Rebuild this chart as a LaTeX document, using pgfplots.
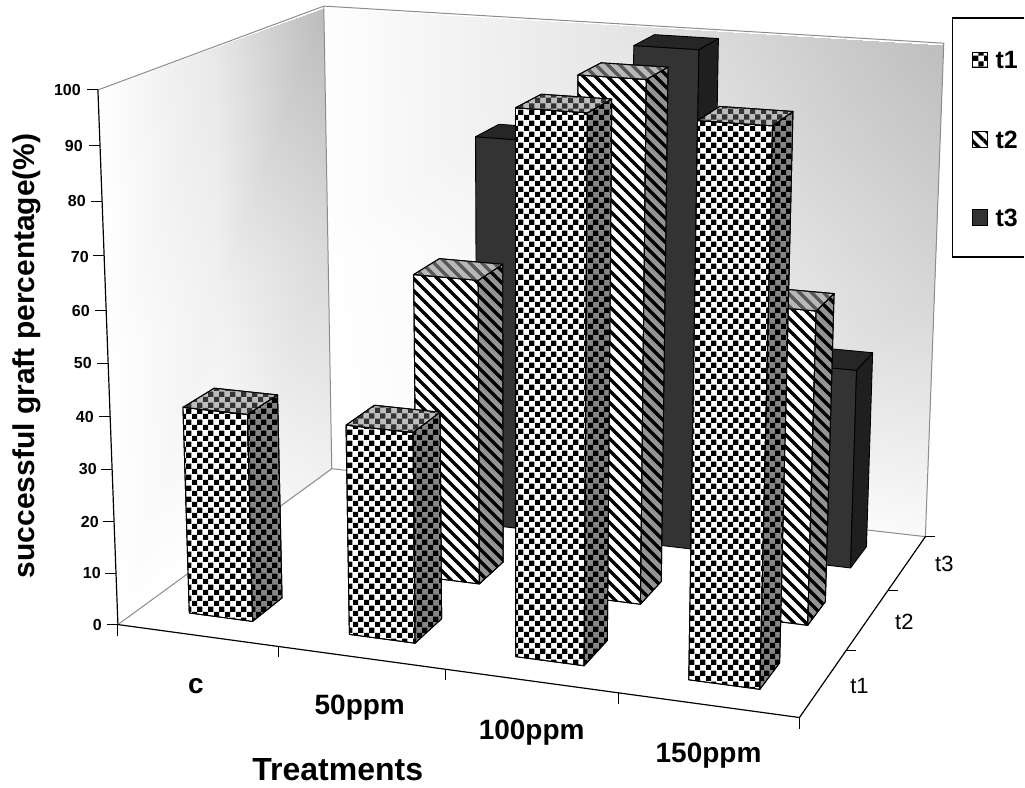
\documentclass[border=0pt]{standalone}
\usepackage{fontspec}
\setmainfont{Liberation Sans}
\usepackage{pgfplots}
\usepackage{pgfplotstable}
\pgfplotsset{compat=1.18}
\usetikzlibrary{patterns}

% fill patterns, sizes in px of the reference
\pgfdeclarepatternformonly{chk}{\pgfpointorigin}{\pgfpoint{10.7pt}{10.7pt}}{\pgfpoint{10.7pt}{10.7pt}}{
  \pgfpathrectangle{\pgfpointorigin}{\pgfpoint{5.35pt}{5.35pt}}
  \pgfpathrectangle{\pgfpoint{5.35pt}{5.35pt}}{\pgfpoint{5.35pt}{5.35pt}}
  \pgfusepath{fill}
}
\pgfdeclarepatternformonly{stripe}{\pgfpointorigin}{\pgfpoint{12pt}{12pt}}{\pgfpoint{12pt}{12pt}}{
  \pgfsetlinewidth{3.4pt}
  \pgfpathmoveto{\pgfpoint{-2pt}{14pt}}\pgfpathlineto{\pgfpoint{14pt}{-2pt}}
  \pgfpathmoveto{\pgfpoint{-4pt}{4pt}}\pgfpathlineto{\pgfpoint{4pt}{-4pt}}
  \pgfpathmoveto{\pgfpoint{8pt}{16pt}}\pgfpathlineto{\pgfpoint{16pt}{8pt}}
  \pgfusepath{stroke}
}

% percent of successful grafts, one row for each treatment
\pgfplotstableread{
treatment t1  t2  t3
c         40  0   0
50ppm     40  60  80
100ppm    100 100 100
150ppm    100 60  40
}\barvals

% the picture's perspective: X = 0..4 treatments, Y = 0..3 series, Z = 0..100 percent
\newcommand\PX[3]{((620.90*(#1)/4+268.56*(#2)/3-24.635*(#3)/100+118)/(1-0.07638*(#1)/4+0.16435*(#2)/3-0.0473*(#3)/100))}
\newcommand\PY[3]{((38.16*(#1)/4-78.92*(#2)/3-539.26*(#3)/100+625)/(1-0.07638*(#1)/4+0.16435*(#2)/3-0.0473*(#3)/100))}

\newcommand\face[2]{%
  \addplot[#1] table[row sep=\\,
    x expr={\PX{\I+0.3+0.4*\thisrow{a}}{\J+0.3+0.4*\thisrow{b}}{\V*\thisrow{c}}},
    y expr={\PY{\I+0.3+0.4*\thisrow{a}}{\J+0.3+0.4*\thisrow{b}}{\V*\thisrow{c}}}]
    {a b c\\ #2};}
% treatment row, series number, styles of front, side, top
\newcommand\drawbar[5]{%
  \pgfplotstablegetelem{#1}{t#2}\of\barvals
  \let\V\pgfplotsretval
  \def\I{#1}\pgfmathtruncatemacro\J{#2-1}%
  \face{#3}{0 0 0\\ 1 0 0\\ 1 0 1\\ 0 0 1\\ 0 0 0\\}
  \face{#4}{1 0 0\\ 1 1 0\\ 1 1 1\\ 1 0 1\\ 1 0 0\\}
  \face{#5}{0 0 1\\ 1 0 1\\ 1 1 1\\ 0 1 1\\ 0 0 1\\}
}
% a line between model points
\newcommand\mline[2]{%
  \addplot[#1] table[row sep=\\,
    x expr={\PX{\thisrow{X}}{\thisrow{Y}}{\thisrow{Z}}},
    y expr={\PY{\thisrow{X}}{\thisrow{Y}}{\thisrow{Z}}}]
    {X Y Z\\ #2};}

\definecolor{edgegray}{gray}{0.55}
\pgfplotsset{
  bar edge/.style={draw=black, line width=0.9pt, line join=round},
  chkF/.style={bar edge, preaction={fill=white}, pattern=chk},
  chkS/.style={bar edge, preaction={fill=black!48}, pattern=chk},
  chkT/.style={bar edge, preaction={fill=black!26}, pattern=chk, pattern color=black!80},
  strF/.style={bar edge, preaction={fill=white}, pattern=stripe},
  strS/.style={bar edge, preaction={fill=black!42}, pattern=stripe},
  strT/.style={bar edge, preaction={fill=black!28}, pattern=stripe, pattern color=black!65},
  solF/.style={bar edge, fill=black!80},
  solS/.style={bar edge, fill=black!88},
  solT/.style={bar edge, fill=black!85},
}
\newcommand\bold[1]{\fontsize{#1}{#1}\selectfont\bfseries}
\newcommand\plain[1]{\fontsize{#1}{#1}\selectfont}

\begin{document}
\begin{tikzpicture}
\begin{axis}[
  scale only axis, width=1025pt, height=788pt,
  xmin=0, xmax=1025, ymin=0, ymax=788, y dir=reverse,
  hide axis, clip=false,
  colormap={wall}{gray(0cm)=(0); gray(1cm)=(1)},
  point meta min=0, point meta max=255,
]
  % a hidden axis adds no box of its own: hold the page at full size
  \path (axis cs:0,0) rectangle (axis cs:1025,788);

  % left wall
  \addplot[patch, patch type=rectangle, shader=interp, point meta=\thisrow{c}] table {
    x y c
    98 90 255
    216 47 232
    219 290 240
    108 360 255
    108 360 255
    219 290 240
    225 547 255
    118 625 255
    216 47 232
    324 8 188
    328 240 216
    219 290 240
    219 290 240
    328 240 216
    332 469 240
    225 547 255
  };
  % back wall
  \addplot[patch, patch type=rectangle, shader=interp, point meta=\thisrow{c}] table {
    x y c
    324 8 254
    635 26 228
    632 265 243
    328 240 254
    328 240 254
    632 265 243
    629 503 255
    332 469 255
    635 26 228
    944 45 190
    935 290 214
    632 265 243
    632 265 243
    935 290 214
    926 537 250
    629 503 255
  };
  % wall edges
  \mline{edgegray, line width=1pt}{0 0 100\\ 0 3 100\\ 4 3 100\\ 4 3 0\\ 0 3 0\\ 0 0 0\\}
  \mline{edgegray, line width=1pt}{0 3 100\\ 0 3 0\\}
  % axes
  \mline{black, line width=1.2pt}{0 0 100\\ 0 0 0\\ 4 0 0\\ 4 3 0\\}

  % ticks on the percent axis
  \pgfplotsinvokeforeach{0,10,...,100}{
    \addplot[black, line width=1pt] table[row sep=\\,
      x expr={\PX{0}{0}{#1}+\thisrow{dx}}, y expr={\PY{0}{0}{#1}}] {dx\\ -11\\ 0\\};
  }
  % ticks below the treatment axis
  \pgfplotsinvokeforeach{0,1,2,3,4}{
    \addplot[black, line width=1pt] table[row sep=\\,
      x expr={\PX{#1}{0}{0}}, y expr={\PY{#1}{0}{0}+\thisrow{dy}}] {dy\\ 0\\ 11\\};
  }
  % ticks beside the series axis
  \pgfplotsinvokeforeach{1,2,3}{
    \addplot[black, line width=1pt] table[row sep=\\,
      x expr={\PX{4}{#1}{0}+\thisrow{dx}}, y expr={\PY{4}{#1}{0}}] {dx\\ 0\\ 10\\};
  }

  % bars, from the back to the front
  \drawbar{1}{3}{solF}{solS}{solT}
  \drawbar{2}{3}{solF}{solS}{solT}
  \drawbar{3}{3}{solF}{solS}{solT}
  \drawbar{1}{2}{strF}{strS}{strT}
  \drawbar{2}{2}{strF}{strS}{strT}
  \drawbar{3}{2}{strF}{strS}{strT}
  \drawbar{0}{1}{chkF}{chkS}{chkT}
  \drawbar{1}{1}{chkF}{chkS}{chkT}
  \drawbar{2}{1}{chkF}{chkS}{chkT}
  \drawbar{3}{1}{chkF}{chkS}{chkT}

  % percent axis labels
  \foreach \lab/\xx/\yy in {100/81/90,90/83/146,80/86/201,70/89/257,60/90/311,50/92/363,40/94/417,30/97/469,20/99/522,10/101/573,0/102/625}{
    \edef\tmp{\noexpand\node[anchor=east, inner sep=0pt, font=\noexpand\bold{16}] at (axis cs:\xx,\yy) {\lab};}
    \tmp
  }
  \node[rotate=90, inner sep=0pt, font=\bold{30}] at (axis cs:27,356) {successful graft percentage(\%)};
  \node[inner sep=0pt, font=\bold{28}] at (axis cs:196,687) {c};
  \node[inner sep=0pt, font=\bold{28}] at (axis cs:360,708) {50ppm};
  \node[inner sep=0pt, font=\bold{28}] at (axis cs:532,733) {100ppm};
  \node[inner sep=0pt, font=\bold{28}] at (axis cs:709,756) {150ppm};
  \node[inner sep=0pt, font=\bold{32}] at (axis cs:338,770) {Treatments};
  \node[inner sep=0pt, font=\plain{22}] at (axis cs:860,686) {t1};
  \node[inner sep=0pt, font=\plain{22}] at (axis cs:905,622) {t2};
  \node[inner sep=0pt, font=\plain{22}] at (axis cs:945,564) {t3};

  % legend
  \addplot[black, line width=1.4pt] coordinates {(1025,18)(953,18)(953,257)(1025,257)};
  \addplot[draw=black, line width=1pt, preaction={fill=white}, pattern=chk] coordinates {(973,53)(988,53)(988,68)(973,68)(973,53)};
  \addplot[draw=black, line width=1pt, preaction={fill=white}, pattern=stripe] coordinates {(973,132)(988,132)(988,148)(973,148)(973,132)};
  \addplot[draw=black, line width=1pt, fill=black!80] coordinates {(973,210)(988,210)(988,226)(973,226)(973,210)};
  \node[anchor=west, inner sep=0pt, font=\bold{25}] at (axis cs:996,60) {t1};
  \node[anchor=west, inner sep=0pt, font=\bold{25}] at (axis cs:996,140) {t2};
  \node[anchor=west, inner sep=0pt, font=\bold{25}] at (axis cs:996,218) {t3};
\end{axis}
\end{tikzpicture}
\end{document}
